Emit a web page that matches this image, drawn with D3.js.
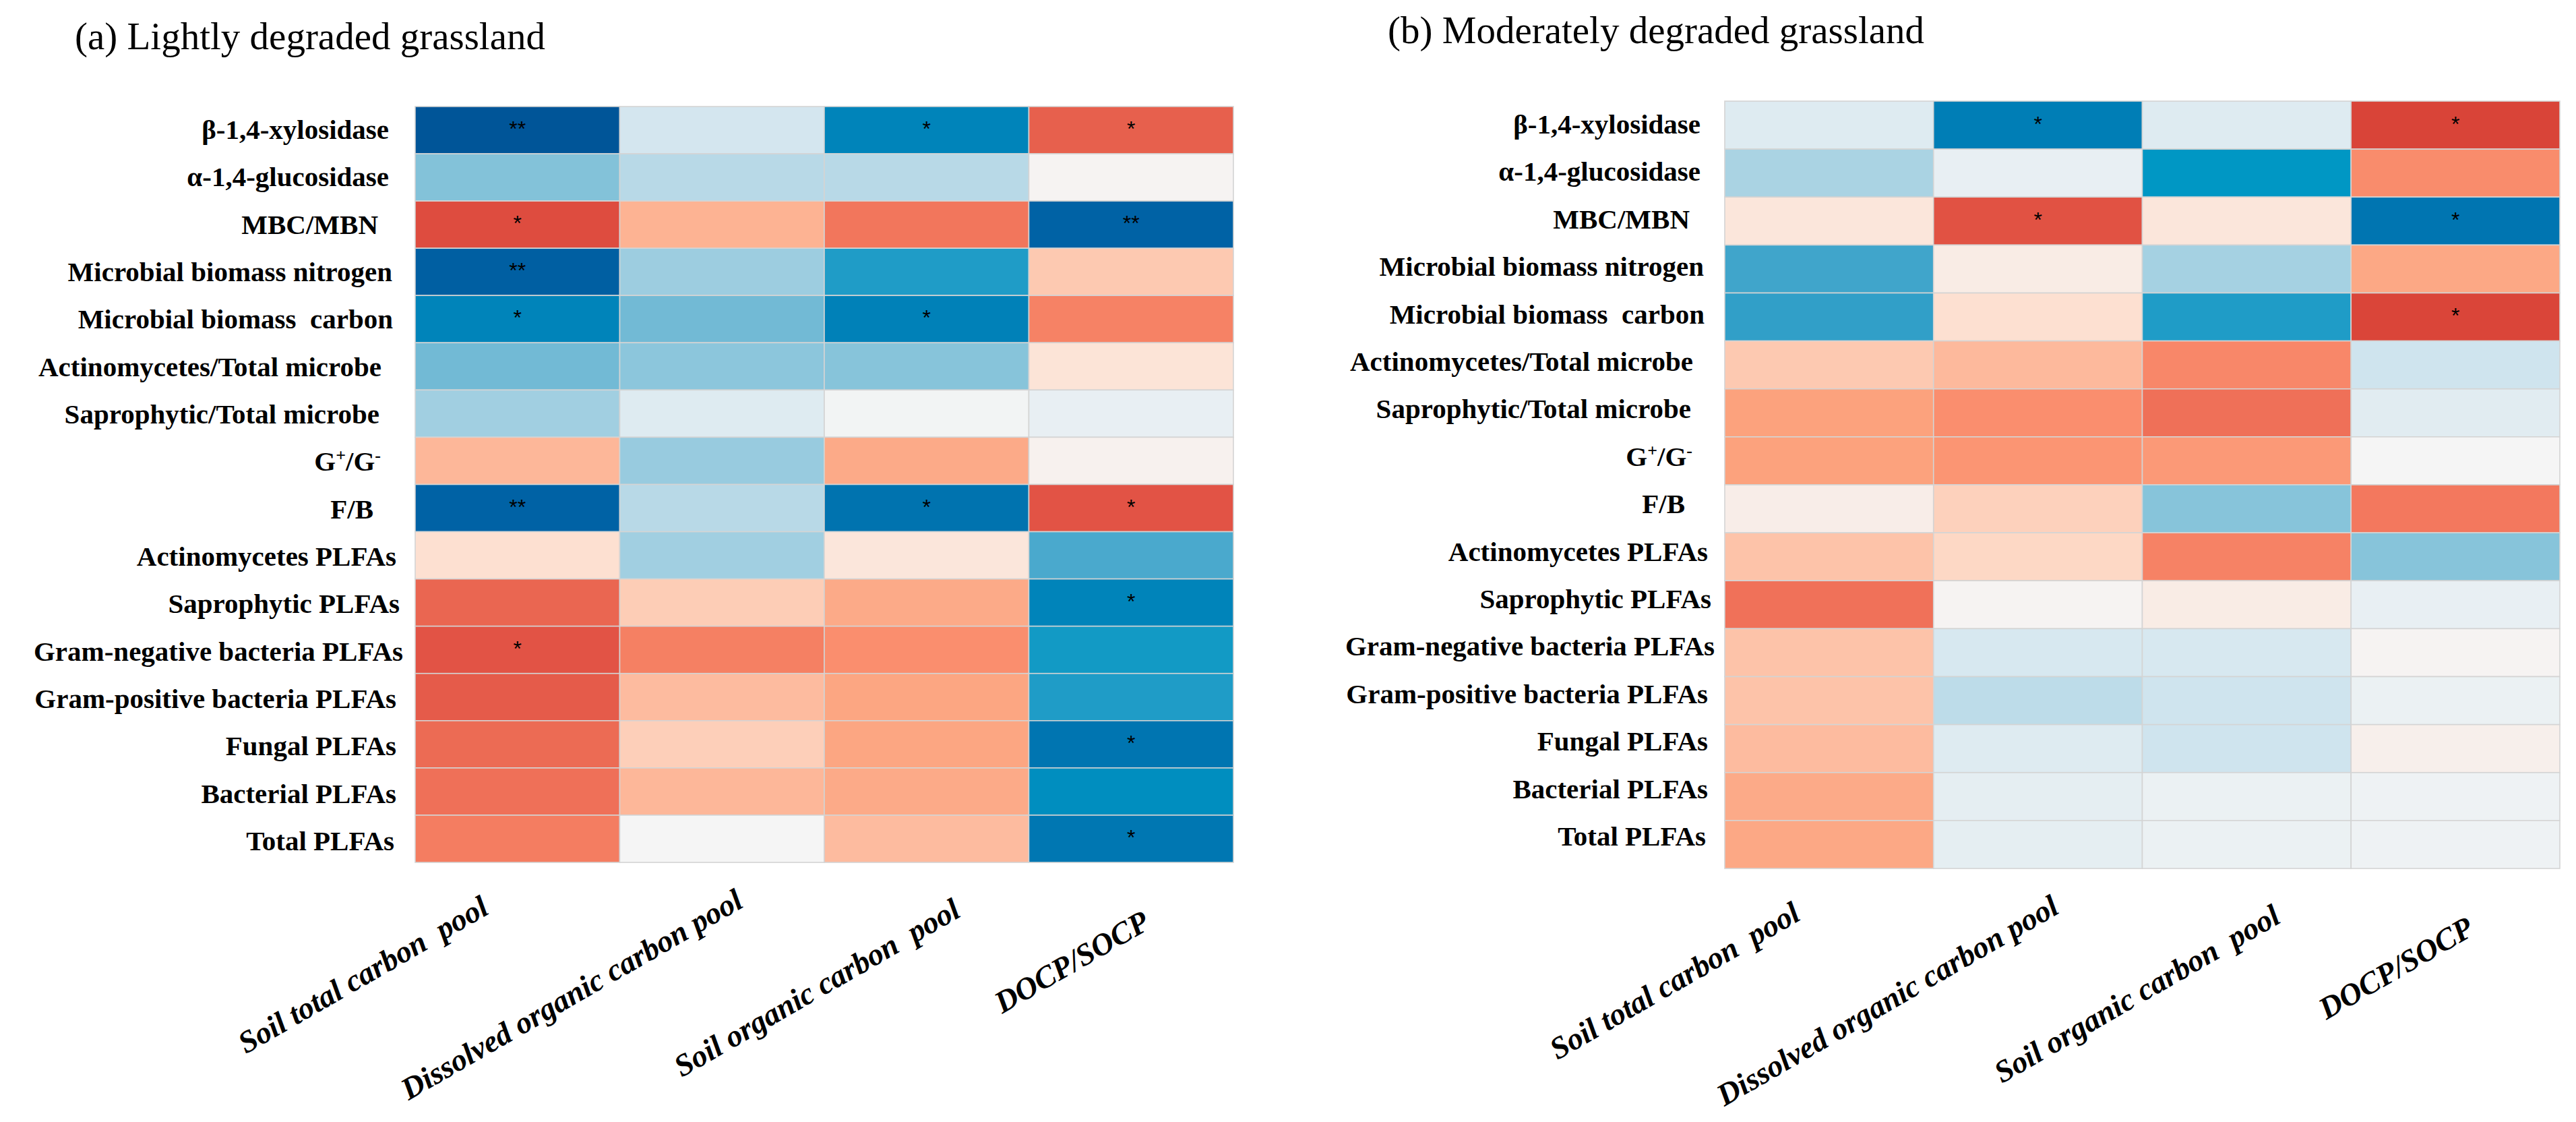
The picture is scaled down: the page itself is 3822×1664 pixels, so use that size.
<!DOCTYPE html>
<html><head><meta charset="utf-8">
<script src="https://cdn.jsdelivr.net/npm/d3@7"></script>
<style>
html,body{margin:0;padding:0;background:#fff;}
svg{display:block;}
text{white-space:pre;}
</style>
</head><body>
<svg id="chart" width="3822" height="1664"></svg>
<script>
// ---------------- data ----------------
const rowLabels = [
  "β-1,4-xylosidase",
  "α-1,4-glucosidase",
  "MBC/MBN",
  "Microbial biomass nitrogen",
  "Microbial biomass  carbon",
  "Actinomycetes/Total microbe",
  "Saprophytic/Total microbe",
  "G+/G-",
  "F/B",
  "Actinomycetes PLFAs",
  "Saprophytic PLFAs",
  "Gram-negative bacteria PLFAs",
  "Gram-positive bacteria PLFAs",
  "Fungal PLFAs",
  "Bacterial PLFAs",
  "Total PLFAs"
];
const colLabels = [
  "Soil total carbon  pool",
  "Dissolved organic carbon pool",
  "Soil organic carbon  pool",
  "DOCP/SOCP"
];
const panelTitles = ["(a) Lightly degraded grassland", "(b) Moderately degraded grassland"];

// correlation values, rows x columns (estimated from colours)
const valuesA = [
  [-0.93, -0.10, -0.69,  0.74],
  [-0.28, -0.16, -0.16,  0.01],
  [ 0.87,  0.33,  0.60, -0.84],
  [-0.86, -0.22, -0.49,  0.22],
  [-0.69, -0.32, -0.71,  0.55],
  [-0.32, -0.26, -0.27,  0.09],
  [-0.21, -0.07, -0.01, -0.04],
  [ 0.31, -0.23,  0.37,  0.02],
  [-0.84, -0.16, -0.77,  0.82],
  [ 0.11, -0.21,  0.08, -0.40],
  [ 0.70,  0.20,  0.37, -0.69],
  [ 0.82,  0.56,  0.50, -0.52],
  [ 0.77,  0.29,  0.39, -0.49],
  [ 0.67,  0.19,  0.39, -0.76],
  [ 0.64,  0.31,  0.37, -0.62],
  [ 0.57,  0.00,  0.29, -0.75]
];
const starsA = [
  ["**", "", "*", "*"],
  ["", "", "", ""],
  ["*", "", "", "**"],
  ["**", "", "", ""],
  ["*", "", "*", ""],
  ["", "", "", ""],
  ["", "", "", ""],
  ["", "", "", ""],
  ["**", "", "*", "*"],
  ["", "", "", ""],
  ["", "", "", "*"],
  ["*", "", "", ""],
  ["", "", "", ""],
  ["", "", "", "*"],
  ["", "", "", ""],
  ["", "", "", "*"]
];
const valuesB = [
  [-0.07, -0.72, -0.07,  0.93],
  [-0.19, -0.04, -0.56,  0.51],
  [ 0.08,  0.83,  0.08, -0.76],
  [-0.42,  0.05, -0.20,  0.38],
  [-0.45,  0.11, -0.49,  0.92],
  [ 0.22,  0.30,  0.53, -0.11],
  [ 0.41,  0.50,  0.64, -0.06],
  [ 0.41,  0.47,  0.45,  0.00],
  [ 0.04,  0.18, -0.27,  0.59],
  [ 0.25,  0.15,  0.55, -0.27],
  [ 0.63,  0.01,  0.05, -0.04],
  [ 0.25, -0.09, -0.09,  0.01],
  [ 0.25, -0.15, -0.11, -0.03],
  [ 0.29, -0.07, -0.11,  0.03],
  [ 0.37, -0.05, -0.03, -0.02],
  [ 0.38, -0.05, -0.03, -0.02]
];
const starsB = [
  ["", "*", "", "*"],
  ["", "", "", ""],
  ["", "*", "", "*"],
  ["", "", "", ""],
  ["", "", "", "*"],
  ["", "", "", ""],
  ["", "", "", ""],
  ["", "", "", ""],
  ["", "", "", ""],
  ["", "", "", ""],
  ["", "", "", ""],
  ["", "", "", ""],
  ["", "", "", ""],
  ["", "", "", ""],
  ["", "", "", ""],
  ["", "", "", ""]
];

// ---------------- colour scale ----------------
const colorStops = [-1.0, -0.85, -0.7, -0.56, -0.45, -0.32, -0.2, -0.1, 0, 0.1, 0.2, 0.3, 0.4, 0.5, 0.6, 0.7, 0.8, 0.9, 1.0];
const colorHex   = ["#004B8D","#0060A4","#0083B9","#0097C4","#319FC8","#72BAD5","#A5D1E2","#D4E6EF","#F5F5F5",
                    "#FDE2D4","#FDCDB6","#FDB99C","#FCA47F","#FA8E6E","#F2765C","#EA6651","#E35647","#DC483B","#D23B31"];
const color = d3.scaleLinear().domain(colorStops).range(colorHex).interpolate(d3.interpolateRgb).clamp(true);

// ---------------- layout ----------------
const panels = [
  {title: panelTitles[0], values: valuesA, stars: starsA,
   left: 616, right: 1830, top: 158, bottom: 1279,
   labelRight: 582, labelY0: 206, labelY1: 1261, titleX: 111, titleY: 73},
  {title: panelTitles[1], values: valuesB, stars: starsB,
   left: 2559, right: 3798, top: 150, bottom: 1288,
   labelRight: 2528, labelY0: 198, labelY1: 1254, titleX: 2059, titleY: 64}
];
const rowLabelDx = [-5, -5, -21, 0, 1, -16, -19, -17, -28, 6, 11, 16, 6, 6, 6, 3];
const colLabelDx = [-40, 34, 53, 30];
const colLabelDy = [0, -10, 4, 22];

const svg = d3.select("#chart");
svg.append("rect").attr("width", 3822).attr("height", 1664).attr("fill", "#fff");

const serif = "'Liberation Serif','Times New Roman',Times,serif";

panels.forEach(p => {
  const g = svg.append("g");
  const x = d3.scaleBand().domain(colLabels).range([p.left, p.right]);
  const y = d3.scaleBand().domain(rowLabels).range([p.top, p.bottom]);
  const yLab = d3.scalePoint().domain(rowLabels).range([p.labelY0, p.labelY1]);

  const cells = [];
  rowLabels.forEach((r, i) => colLabels.forEach((c, j) => {
    cells.push({row: r, col: c, v: p.values[i][j], s: p.stars[i][j]});
  }));

  g.selectAll("rect.cell").data(cells).join("rect")
    .attr("class", "cell")
    .attr("x", d => x(d.col))
    .attr("y", d => y(d.row))
    .attr("width", x.bandwidth())
    .attr("height", y.bandwidth())
    .attr("fill", d => color(d.v))
    .attr("stroke", "#D4D4D4")
    .attr("stroke-width", 1.6);

  g.selectAll("text.star").data(cells.filter(d => d.s)).join("text")
    .attr("class", "star")
    .attr("x", d => x(d.col) + x.bandwidth() / 2)
    .attr("y", d => y(d.row) + y.bandwidth() / 2 + 9)
    .attr("text-anchor", "middle")
    .attr("font-family", "'Liberation Sans',Arial,sans-serif")
    .attr("font-size", 32)
    .attr("fill", "#000")
    .text(d => d.s);

  // row labels
  const rl = g.selectAll("text.rowlab").data(rowLabels).join("text")
    .attr("class", "rowlab")
    .attr("x", (d, i) => p.labelRight + rowLabelDx[i])
    .attr("y", d => yLab(d))
    .attr("text-anchor", "end")
    .attr("font-family", serif)
    .attr("font-weight", "bold")
    .attr("font-size", 41)
    .attr("fill", "#000");
  rl.each(function(d) {
    const t = d3.select(this);
    if (d === "G+/G-") {
      t.append("tspan").text("G");
      t.append("tspan").attr("baseline-shift", "super").attr("font-size", 26).text("+");
      t.append("tspan").text("/G");
      t.append("tspan").attr("baseline-shift", "super").attr("font-size", 26).text("-");
    } else {
      t.text(d);
    }
  });

  // column labels
  g.selectAll("text.collab").data(colLabels).join("text")
    .attr("class", "collab")
    .attr("text-anchor", "end")
    .attr("transform", (d, i) => `translate(${x(d) + x.bandwidth() / 2 + colLabelDx[i]},${p.bottom + 75 + colLabelDy[i]}) rotate(-30)`)
    .attr("font-family", serif)
    .attr("font-weight", "bold")
    .attr("font-style", "italic")
    .attr("font-size", 46)
    .attr("fill", "#000")
    .text(d => d);

  // title
  g.append("text")
    .attr("x", p.titleX)
    .attr("y", p.titleY)
    .attr("font-family", serif)
    .attr("font-size", 57)
    .attr("fill", "#000")
    .text(p.title);
});
</script>
</body></html>
